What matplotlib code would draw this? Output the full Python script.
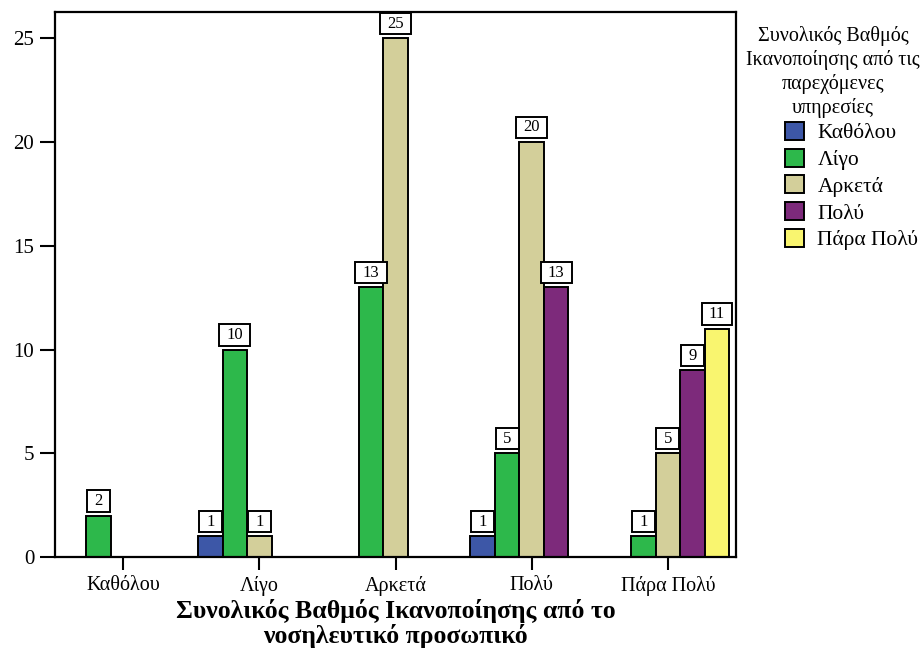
import numpy as np
import matplotlib.pyplot as plt
from matplotlib.path import Path

plt.rcParams['font.family'] = ['Liberation Serif', 'DejaVu Serif']

# κατηγορίες του άξονα x (ικανοποίηση από το νοσηλευτικό προσωπικό)
categories = ['Καθόλου', 'Λίγο', 'Αρκετά', 'Πολύ', 'Πάρα Πολύ']

# σειρές: ικανοποίηση από τις παρεχόμενες υπηρεσίες
series_names = ['Καθόλου', 'Λίγο', 'Αρκετά', 'Πολύ', 'Πάρα Πολύ']
katholou = [0, 1, 0, 1, 0]
ligo = [2, 10, 13, 5, 1]
arketa = [0, 1, 25, 20, 5]
poly = [0, 0, 0, 13, 9]
para_poly = [0, 0, 0, 0, 11]
series_values = [katholou, ligo, arketa, poly, para_poly]

colors = ['#3D57A7', '#2DB84B', '#D3CF9A', '#7D2A7B', '#F9F56F']
yticks = [0, 5, 10, 15, 20, 25]


def label_box(x0, y0, width, height, mutation_size):
    # πλαίσιο ετικέτας: φαρδύ οριζόντια, στενό κάθετα
    px = 0.44 * mutation_size
    py = 0.16 * mutation_size
    x0, x1 = x0 - px, x0 + width + px
    y0, y1 = y0 - py, y0 + height + py
    return Path([(x0, y0), (x1, y0), (x1, y1), (x0, y1), (x0, y0)],
                closed=True)


fig = plt.figure(figsize=(9.23, 6.52), dpi=100)
ax = fig.add_axes([0.0596, 0.1457, 0.7378, 0.8359])

x = np.arange(len(categories))
width = 0.18
for i, (name, vals) in enumerate(zip(series_names, series_values)):
    vals = np.asarray(vals)
    keep = vals > 0
    xs = x[keep] + (i - 2) * width
    ax.bar(xs, vals[keep], width=width, color=colors[i], edgecolor='black',
           linewidth=1.4, label=name, zorder=2)
    for xi, v in zip(xs, vals[keep]):
        ax.annotate(str(v), (xi, v), xytext=(0, 4.8), textcoords='offset points',
                    ha='center', va='bottom', fontsize=12, zorder=3,
                    bbox=dict(boxstyle=label_box, fc='white', ec='black', lw=1.4))

ax.set_xlim(-0.5, 4.5)
ax.set_ylim(0, 26.27)
ax.set_xticks(x)
ax.set_xticklabels(categories, fontsize=14.5)
ax.set_yticks(yticks)
ax.set_yticklabels([str(t) for t in yticks], fontsize=15)
ax.tick_params(axis='y', length=11, width=1.5, pad=4)
ax.tick_params(axis='x', length=9.5, width=1.5, pad=4)
for s in ax.spines.values():
    s.set_linewidth(1.6)

ax.set_xlabel('Συνολικός Βαθμός Ικανοποίησης από το\nνοσηλευτικό προσωπικό',
              fontsize=18.5, fontweight='bold', labelpad=2, linespacing=1.1)

# τίτλος υπομνήματος
fig.text(833 / 923, 1 - 26 / 652,
         'Συνολικός Βαθμός\nΙκανοποίησης από τις\nπαρεχόμενες\nυπηρεσίες',
         ha='center', va='top', multialignment='center', fontsize=14.5,
         linespacing=1.26)

leg = fig.legend(loc='upper left', bbox_to_anchor=(785 / 923, 1 - 122 / 652),
                 frameon=False, fontsize=15.5,
                 handlelength=0.9, handleheight=0.9, handletextpad=0.6,
                 labelspacing=0.25, borderpad=0, borderaxespad=0)
for h in leg.legend_handles:
    h.set_linewidth(1.4)

fig.savefig('out.png', dpi=100)
